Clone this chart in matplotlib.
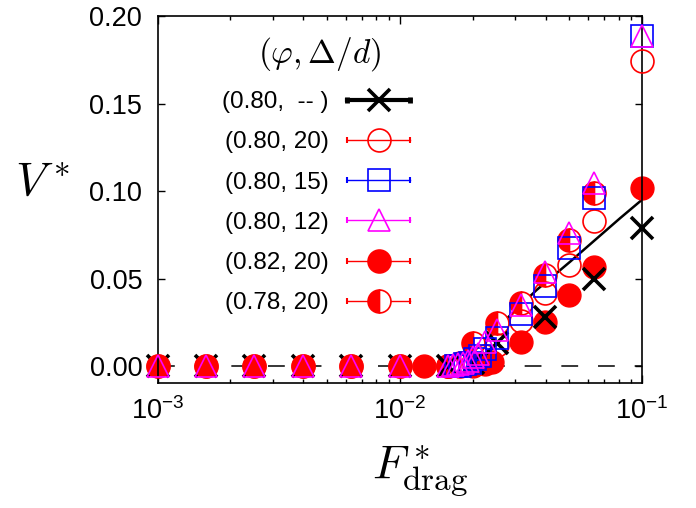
import matplotlib
matplotlib.use("Agg")
import matplotlib.pyplot as plt
from matplotlib.lines import Line2D
from matplotlib.legend_handler import HandlerLine2D, HandlerTuple

plt.rcParams['font.family'] = ['Liberation Sans', 'DejaVu Sans']
plt.rcParams['mathtext.fontset'] = 'custom'
plt.rcParams['mathtext.rm'] = 'Liberation Sans'
plt.rcParams['mathtext.it'] = 'Liberation Sans:italic'

# velocity vs drag force, F below onset
F_low = [0.001, 0.00158, 0.00251, 0.00398, 0.00631, 0.01]
V_low = [0, 0, 0, 0, 0, 0]

# (0.80, --)
F_080 = F_low + [0.0158, 0.0200, 0.0251, 0.0398, 0.0631, 0.1]
V_080 = V_low + [0, 0.002, 0.013, 0.028, 0.050, 0.079]

# (0.80, 20)
F_080_20 = F_low + [0.0158, 0.0178, 0.0200, 0.0224, 0.0251, 0.0316, 0.0398, 0.0501, 0.0631, 0.1]
V_080_20 = V_low + [0, 0, 0.002, 0.006, 0.012, 0.026, 0.0415, 0.0577, 0.083, 0.1743]

# (0.80, 15)
F_080_15 = [0.0170, 0.0178, 0.0186, 0.0195, 0.0204, 0.0214, 0.0224, 0.0251, 0.0316, 0.0398, 0.0501, 0.0631, 0.1]
V_080_15 = [0.0, 0.0, 0.001, 0.002, 0.004, 0.006, 0.010, 0.016, 0.030, 0.046, 0.0676, 0.096, 0.1886]

# (0.80, 12)
F_080_12 = F_low + [0.0158, 0.0166, 0.0174, 0.0182, 0.0191, 0.0200, 0.0210, 0.0224, 0.0251, 0.0316, 0.0398, 0.0501, 0.0631, 0.1]
V_080_12 = V_low + [0, 0.0005, 0.001, 0.002, 0.003, 0.005, 0.007, 0.0139, 0.0206, 0.0349, 0.054, 0.076, 0.1046, 0.1886]

# (0.82, 20)
F_082_20 = F_low + [0.0126, 0.0158, 0.0200, 0.0224, 0.0240, 0.0316, 0.0398, 0.0501, 0.0631, 0.1]
V_082_20 = V_low + [0, 0, 0, 0.001, 0.0025, 0.0139, 0.025, 0.0406, 0.0567, 0.1015]

# (0.78, 20)
F_078_20 = [0.0158, 0.0178, 0.0200, 0.0251, 0.0316, 0.0398, 0.0501, 0.0631]
V_078_20 = [0, 0.002, 0.013, 0.0244, 0.036, 0.052, 0.072, 0.099]

# solid black curve
F_fit = [0.0166, 0.0189, 0.0220, 0.0277, 0.0367, 0.0505, 0.0811, 0.1]
V_fit = [0.0006, 0.0063, 0.0139, 0.0272, 0.0434, 0.0596, 0.0844, 0.095]

labels = ['(0.80,  -- )', '(0.80, 20)', '(0.80, 15)', '(0.80, 12)', '(0.82, 20)', '(0.78, 20)']

red = '#ff0000'
blue = '#0000ff'
mag = '#ff00ff'
ms = 16.5
n_low = len(F_low)

fig = plt.figure(figsize=(6.96, 5.08), dpi=100)
ax = fig.add_axes([0.2263, 0.2461, 0.6961, 0.7224])

ax.axhline(0, color='black', lw=1.1, dashes=(11, 13), zorder=1)
ax.plot(F_fit, V_fit, color='black', lw=1.8, zorder=1.5)

# crosses below onset sit under the discs
ax.plot(F_080[:n_low], V_080[:n_low], ls='', marker='x', ms=ms, color='black', mew=2.6,
        zorder=1.8, clip_on=False)
ax.plot(F_082_20, V_082_20, ls='', marker='o', ms=ms, color=red, mec=red, zorder=2, clip_on=False)
ax.plot(F_078_20, V_078_20, ls='', marker='o', ms=ms, color=red, mec=red, fillstyle='left',
        markerfacecoloralt='white', mew=1.2, zorder=2.5, clip_on=False)
ax.plot(F_080_20, V_080_20, ls='', marker='o', ms=ms, mfc='none', mec=red, mew=1.2, zorder=3,
        clip_on=False)
ax.plot(F_080[n_low:], V_080[n_low:], ls='', marker='x', ms=ms, color='black', mew=2.6, zorder=4,
        clip_on=False)
ax.plot(F_080_15, V_080_15, ls='', marker='s', ms=ms * 0.95, mfc='none', mec=blue, mew=1.2,
        zorder=5, clip_on=False)
ax.plot(F_080_12, V_080_12, ls='', marker='^', ms=ms, mfc='none', mec=mag, mew=1.2, zorder=6,
        clip_on=False)

ax.set_xscale('log')
ax.set_xlim(1e-3, 1e-1)
ax.set_ylim(-0.0097, 0.2)
ax.set_yticks([0, 0.05, 0.10, 0.15, 0.20])
ax.set_yticklabels(['0.00', '0.05', '0.10', '0.15', '0.20'])
ax.tick_params(which='both', direction='in', top=True, right=True, labelsize=19.5, width=1)
ax.tick_params(axis='y', which='major', length=5, pad=11)
ax.tick_params(axis='x', which='major', length=6, pad=10)
ax.tick_params(which='minor', length=3)
for s in ax.spines.values():
    s.set_linewidth(1.2)

ax.set_ylabel(r'$V^*$', fontsize=34, rotation=0, math_fontfamily='cm')
ax.yaxis.set_label_coords(-0.238, 0.485)
ax.set_xlabel(r'$F^*_{\rm drag}$', fontsize=34, math_fontfamily='cm')
ax.xaxis.set_label_coords(0.542, -0.165)

# legend, gnuplot style: text then sample line with end caps
specs = [('black', 'x', 'full', 2.6, 3.0),
         (red, 'o', 'none', 1.2, 1.0),
         (blue, 's', 'none', 1.2, 1.0),
         (mag, '^', 'none', 1.2, 1.0),
         (red, 'o', 'full', 1.2, 1.0),
         (red, 'o', 'left', 1.2, 1.0)]
handles = []
hmap = {}
for c, m, fill, mew, lw in specs:
    caps = Line2D([], [], ls='-', lw=lw, color=c, marker='|', ms=5, mew=lw + 0.5)
    if fill == 'none':
        main = Line2D([], [], ls='', marker=m, ms=ms, mfc='none', mec=c, mew=mew)
    elif fill == 'left':
        main = Line2D([], [], ls='', marker=m, ms=ms, color=c, mec=c, fillstyle='left',
                      markerfacecoloralt='white', mew=mew)
    else:
        main = Line2D([], [], ls='', marker=m, ms=ms, color=c, mec=c, mew=mew)
    hmap[caps] = HandlerLine2D(numpoints=2)
    handles.append((caps, main))
hmap[tuple] = HandlerTuple(ndivide=1, pad=0)

leg = ax.legend(handles, labels, handler_map=hmap, loc='upper left',
                bbox_to_anchor=(0.088, 1.008), frameon=False, markerfirst=False,
                fontsize=17.5, handlelength=3.17, handletextpad=0.48, labelspacing=0.75,
                title=r'$(\varphi, \Delta/d)$', title_fontsize=24)
leg.get_title().set_math_fontfamily('cm')

fig.savefig('out.png', dpi=100)
